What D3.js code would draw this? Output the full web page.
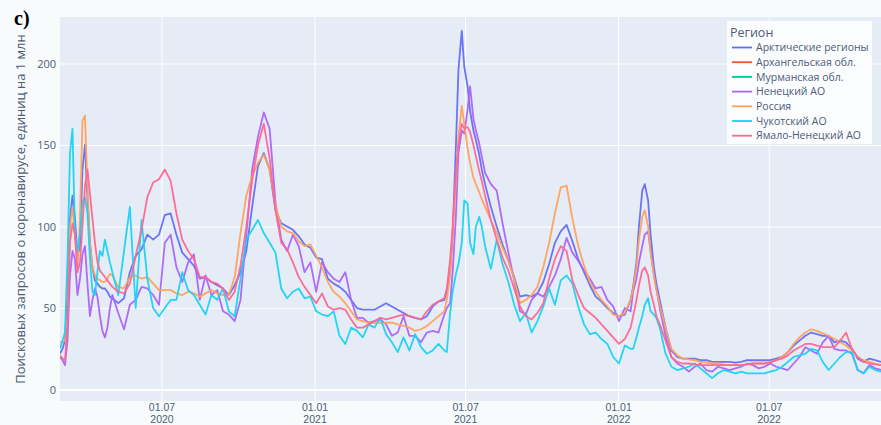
<!DOCTYPE html>
<html><head><meta charset="utf-8">
<script src="https://cdn.jsdelivr.net/npm/d3@7"></script>
<style>
html,body{margin:0;padding:0;background:#ffffff;}
svg{display:block;font-family:"Open Sans",Verdana,Arial,sans-serif;}
</style></head><body>
<svg id="chart" width="881" height="425"></svg>
<script>
// ---------- DATA ----------
const dates = [
 "2020-03-01","2020-03-04","2020-03-07","2020-03-10","2020-03-13","2020-03-16","2020-03-19","2020-03-22","2020-03-25","2020-03-28","2020-03-31",
 "2020-04-03","2020-04-06","2020-04-09","2020-04-12","2020-04-15","2020-04-18","2020-04-21","2020-04-24","2020-04-27","2020-04-30","2020-05-03",
 "2020-05-10","2020-05-17","2020-05-24","2020-05-31","2020-06-07","2020-06-14","2020-06-21","2020-06-28",
 "2020-07-05","2020-07-12","2020-07-19","2020-07-26","2020-08-02","2020-08-09","2020-08-16","2020-08-23","2020-08-30",
 "2020-09-06","2020-09-13","2020-09-20","2020-09-27","2020-10-04","2020-10-11","2020-10-18","2020-10-25",
 "2020-11-01","2020-11-08","2020-11-15","2020-11-22","2020-11-29","2020-12-06","2020-12-13","2020-12-20","2020-12-27",
 "2021-01-03","2021-01-10","2021-01-17","2021-01-24","2021-01-31","2021-02-07","2021-02-14","2021-02-21","2021-02-28",
 "2021-03-07","2021-03-14","2021-03-21","2021-03-28","2021-04-04","2021-04-11","2021-04-18","2021-04-25",
 "2021-05-02","2021-05-09","2021-05-16","2021-05-23","2021-05-30","2021-06-06",
 "2021-06-09","2021-06-13","2021-06-16","2021-06-20","2021-06-23","2021-06-27","2021-06-30",
 "2021-07-04","2021-07-07","2021-07-11","2021-07-14","2021-07-18","2021-07-21","2021-07-25",
 "2021-08-01","2021-08-08","2021-08-15","2021-08-22","2021-08-29",
 "2021-09-05","2021-09-12","2021-09-19","2021-09-26",
 "2021-10-03","2021-10-10","2021-10-17","2021-10-24","2021-10-31",
 "2021-11-07","2021-11-14","2021-11-21","2021-11-28",
 "2021-12-05","2021-12-12","2021-12-19","2021-12-26",
 "2022-01-02","2022-01-09","2022-01-16","2022-01-19","2022-01-23","2022-01-26","2022-01-30",
 "2022-02-02","2022-02-06","2022-02-09","2022-02-13","2022-02-16","2022-02-20","2022-02-27",
 "2022-03-06","2022-03-13","2022-03-20","2022-03-27",
 "2022-04-03","2022-04-10","2022-04-17","2022-04-24",
 "2022-05-01","2022-05-08","2022-05-15","2022-05-22","2022-05-29",
 "2022-06-05","2022-06-12","2022-06-19","2022-06-26",
 "2022-07-03","2022-07-10","2022-07-17","2022-07-24","2022-07-31",
 "2022-08-07","2022-08-14","2022-08-21","2022-08-28",
 "2022-09-04","2022-09-11","2022-09-18","2022-09-25",
 "2022-10-02","2022-10-09","2022-10-16","2022-10-23","2022-10-30",
 "2022-11-06","2022-11-13"
];

const seriesNames = ["Арктические регионы","Архангельская обл.","Мурманская обл.","Ненецкий АО","Россия","Чукотский АО","Ямало-Ненецкий АО"];
const seriesColors = ["#636EFA","#EF553B","#00CC96","#AB63FA","#FFA15A","#19D3F3","#FF6692"];

const arcticValues = [
 22,25,30,60,105,119,105,82,88,135,150,118,90,75,67,65,63,62,62,60,57,56,
 53,56,72,82,86,95,92,95,
 107,108,95,84,80,76,68,69,66,
 64,62,58,64,72,85,112,137,
 145,135,110,102,100,98,94,89,87,
 81,80,68,65,63,60,55,50,49,
 49,49,51,53,51,49,47,45,
 44,43,45,51,54,55,
 60,72,95,150,196,220,198,
 186,171,159,153,144,135,126,
 112,100,89,79,69,
 57,58,57,59,
 66,77,90,97,101,
 91,80,72,64,
 57,54,50,47,
 45,46,55,63,78,100,122,
 126,116,95,75,65,55,38,
 24,20,19,19,
 19,18,18,17,
 17,17,17,16.5,17,
 18,18,18,18,
 18,19,20,23,27,
 30,33,35,34,
 33,33,29,30,
 29,25,19,17,19,
 18,17
];
const arkhangelskValues = [];
const murmanskValues = [];
const nenetsValues = [
 20,18,15,30,70,85,80,58,68,83,88,65,45,55,62,57,45,36,32,38,50,58,
 47,37,52,55,63,62,58,52,
 90,95,75,66,78,83,55,70,58,
 61,48,46,42,55,95,135,155,
 170,160,115,92,85,95,88,72,78,
 60,78,72,68,66,72,55,44,44,
 41,42,43,40,33,35,45,33,
 33,29,35,36,35,46,
 50,53,72,107,145,159,157,
 172,186,166,159,151,143,133,
 126,122,102,84,67,
 48,46,55,59,
 57,63,70,80,93,
 84,79,73,68,
 62,63,55,51,
 42,50,48,60,68,78,88,
 95,97,85,70,62,50,33,
 20,16,14,11,
 14,16,12,11,
 14,13,12,13,14,
 16,15,13,14,
 16,14,13,12,16,
 20,26,24,22,
 29,33,25,24,
 24,22,12,10,15,
 13,12
];
const russiaValues = [
 29,29,30,45,100,112,95,75,105,165,168,125,90,75,70,68,67,66,66,68,71,70,
 63,62,69,70,68,69,65,61,
 61,61,59,58,60,59,57,59,61,
 59,58,58,69,96,119,131,139,
 144,135,113,100,97,96,91,88,89,
 82,75,66,60,57,53,48,43,42,
 41,41,41,41,41,40,39,38,
 36,37,39,42,45,48,
 55,70,95,127,155,174,163,
 148,139,130,126,121,117,112,
 104,96,87,79,68,
 53,55,58,63,
 75,90,108,124,125,
 105,88,76,66,
 60,55,51,46,
 45,47,55,62,75,92,106,
 110,100,84,70,61,52,38,
 25,21,19,18.5,
 18,17,16.5,16,
 16,15.5,15,15,15,
 15.5,16,16,16,
 17,18,20,23,28,
 32,35,37,36,
 34.5,33,31,29,
 27,24,20,18,17,
 16,15
];
const chukotkaValues = [
 25,30,35,80,145,160,95,85,95,115,118,108,80,60,58,72,85,82,92,85,78,72,
 58,85,112,50,104,68,50,45,
 50,55,55,72,61,58,52,46,58,
 55,62,48,45,68,92,98,104,
 96,90,84,62,56,60,62,56,57,
 48,46,45,48,33,28,38,36,32,
 40,38,44,34,29,23,32,24,
 34,26,22,24,28,24,
 23,47,60,71,77,90,116,
 114,90,83,100,106,100,88,
 74,92,77,66,52,
 42,47,35,42,
 51,62,52,67,70,
 65,51,40,34,
 35,31,28,20,
 16,27,25,25,32,38,45,
 52,56,48,46,44,38,22,
 14,12,13,14,
 16,13,10,7,
 10,12,11,10,11,
 10,10,10,10,
 11,12,14,17,20,
 21,22,25,24,
 17,12,16,20,
 23,23,12,10,14,
 12,11
];
const yamalValues = [
 21,19,18,40,90,102,95,72,78,100,125,135,120,105,90,78,73,71,69,67,65,63,
 60,59,65,82,98,118,127,129,
 135,128,108,92,85,80,69,69,66,
 65,62,55,60,76,100,128,150,
 163,142,110,90,86,78,69,63,58,
 53,59,51,49,50,49,43,38,38,
 40,42,44,43,44,45,46,45,
 44,43,48,52,54,56,
 62,80,100,133,150,163,160,
 161,158,150,143,134,128,119,
 104,92,81,73,62,
 51,45,43,47,
 53,68,80,88,85,
 67,58,50,47,
 44,40,36,32,
 28,31,38,45,55,64,73,
 75,70,60,52,45,40,30,
 20,17,16,16,
 15.5,15,15,15,
 15,15,15,15,15,
 15.5,16,16,16,
 16.5,18,19,21,24,
 26,28,28,27,
 26,26,26,30,
 35,25,20,17,16,
 15.5,15
];
const seriesValues = [arcticValues, arkhangelskValues, murmanskValues, nenetsValues, russiaValues, chukotkaValues, yamalValues];

const xTickDates = ["2020-07-01","2021-01-01","2021-07-01","2022-01-01","2022-07-01"];
const yTickValues = [0, 50, 100, 150, 200];
const yAxisTitle = "Поисковых запросов о коронавирусе, единиц на 1 млн";
const legendTitle = "Регион";
const panelLabel = "c)";

// ---------- LAYOUT ----------
const W = 881, H = 425;
const plot = {left: 60, right: 881, top: 17, bottom: 401};
const parse = d3.utcParse("%Y-%m-%d");
const dateObjs = dates.map(parse);
const FONT = '"Open Sans",Verdana,Arial,sans-serif';
const TICKFONT = '"Liberation Sans",Arial,sans-serif';
const TXT = "#4b5d78";

const svg = d3.select("#chart");
svg.append("rect").attr("x",0).attr("y",0).attr("width",W).attr("height",H).attr("fill","#f8fbfc");

const x = d3.scaleUtc()
  .domain([dateObjs[0], dateObjs[dateObjs.length-1]])
  .range([plot.left, plot.right]);
const y = d3.scaleLinear()
  .domain([-7, 228.5])
  .range([plot.bottom, plot.top]);

svg.append("rect")
  .attr("x", plot.left).attr("y", plot.top)
  .attr("width", plot.right - plot.left).attr("height", plot.bottom - plot.top)
  .attr("fill", "#E5ECF6");

// grid
const xTicks = xTickDates.map(parse);
const xGrid = svg.append("g").attr("transform", `translate(0,${plot.bottom})`)
  .call(d3.axisBottom(x).tickValues(xTicks).tickSize(-(plot.bottom-plot.top)).tickFormat(""));
xGrid.select(".domain").remove();
xGrid.selectAll("line").attr("stroke","#ffffff").attr("stroke-width",1);

const yGrid = svg.append("g").attr("transform", `translate(${plot.left},0)`)
  .call(d3.axisLeft(y).tickValues(yTickValues).tickSize(-(plot.right-plot.left)).tickFormat(""));
yGrid.select(".domain").remove();
yGrid.selectAll("line").attr("stroke","#ffffff").attr("stroke-width", d => d === 0 ? 2 : 1);

// clip
svg.append("clipPath").attr("id","clip").append("rect")
  .attr("x", plot.left).attr("y", plot.top)
  .attr("width", plot.right - plot.left).attr("height", plot.bottom - plot.top);

// lines
const line = d3.line().x((d,i) => x(dateObjs[i])).y(d => y(d));
const lineG = svg.append("g").attr("clip-path","url(#clip)");
seriesValues.forEach((vals, k) => {
  if (!vals.length) return;
  lineG.append("path")
    .datum(vals)
    .attr("d", line)
    .attr("fill","none")
    .attr("stroke", seriesColors[k])
    .attr("stroke-width", 1.8)
    .attr("stroke-linejoin","round")
    .attr("stroke-opacity", 0.95);
});

// y axis labels
const yAxis = svg.append("g").attr("transform", `translate(${plot.left},0)`)
  .call(d3.axisLeft(y).tickValues(yTickValues).tickSize(0).tickPadding(4));
yAxis.select(".domain").remove();
yAxis.selectAll("text").attr("fill",TXT).style("font-size","11px").style("font-family",FONT);

// x axis labels (two lines, via the axis for positions)
const fmtDM = d3.utcFormat("%d.%m"), fmtY = d3.utcFormat("%Y");
function styleX(g, baseline) {
  g.select(".domain").remove();
  g.selectAll("text").attr("y", baseline).attr("dy", null)
    .attr("fill",TXT).style("font-size","10.5px").style("font-family",TICKFONT);
}
const xAxis1 = svg.append("g").attr("transform", `translate(0,${plot.bottom})`)
  .call(d3.axisBottom(x).tickValues(xTicks).tickSize(0).tickFormat(fmtDM));
styleX(xAxis1, 9.5);
const xAxis2 = svg.append("g").attr("transform", `translate(0,${plot.bottom})`)
  .call(d3.axisBottom(x).tickValues(xTicks).tickSize(0).tickFormat(fmtY));
styleX(xAxis2, 21.8);

// y axis title
svg.append("text")
  .attr("transform", `translate(25,${(plot.top+plot.bottom)/2}) rotate(-90)`)
  .attr("text-anchor","middle")
  .attr("fill",TXT)
  .style("font-size","13px")
  .text(yAxisTitle);

// panel label
svg.append("text")
  .attr("x", 14).attr("y", 25)
  .style("font-family",'"Liberation Serif","Times New Roman",serif')
  .style("font-weight","bold")
  .style("font-size","20px")
  .attr("fill","#000")
  .text(panelLabel);

// legend
const lg = svg.append("g");
lg.append("rect").attr("x",727).attr("y",21).attr("width",145).attr("height",123)
  .attr("fill","#fbfcfd");
lg.append("text").attr("x",730).attr("y",37).attr("fill",TXT)
  .style("font-size","12.5px").text(legendTitle);
seriesNames.forEach((name, i) => {
  const yy = 47.5 + i * 14.7;
  lg.append("line").attr("x1",732).attr("x2",752).attr("y1",yy).attr("y2",yy)
    .attr("stroke", seriesColors[i]).attr("stroke-width",1.8);
  lg.append("text").attr("x",756).attr("y",yy).attr("dy","0.35em")
    .attr("fill",TXT).style("font-size","10.5px").text(name);
});
</script>
</body></html>
